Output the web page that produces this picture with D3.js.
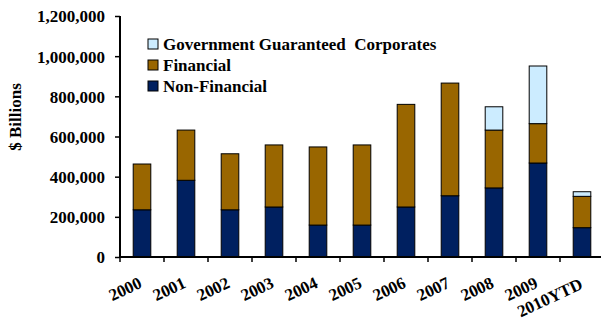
<!DOCTYPE html>
<html>
<head>
<meta charset="utf-8">
<script src="https://cdn.jsdelivr.net/npm/d3@7"></script>
<style>
  body { margin: 0; background: #fff; }
  svg text { font-family: "Liberation Serif", "Times New Roman", serif; font-weight: bold; fill: #000; }
</style>
</head>
<body>
<div id="chart"></div>
<script>
const years = ["2000", "2001", "2002", "2003", "2004", "2005", "2006", "2007", "2008", "2009", "2010YTD"];
const nonFinancial = [235000, 382000, 235000, 249000, 159000, 159000, 249000, 305000, 344000, 468000, 146000];
const financial = [228000, 250000, 279000, 309000, 389000, 399000, 511000, 561000, 288000, 196000, 156000];
const govGuaranteed = [0, 0, 0, 0, 0, 0, 0, 0, 116000, 287000, 23000];
const yTicks = [0, 200000, 400000, 600000, 800000, 1000000, 1200000];

const seriesNames = ["Non-Financial", "Financial", "Government Guaranteed  Corporates"];
const seriesKeys = ["nonFin", "fin", "gov"];
const colors = { nonFin: "#002060", fin: "#996600", gov: "#CCECFF" };

const W = 601, H = 320;
const plot = { left: 120, right: 604, top: 16, bottom: 257 };

const svg = d3.select("#chart").append("svg")
    .attr("width", W)
    .attr("height", H);

const rows = years.map((y, i) => ({ year: y, nonFin: nonFinancial[i], fin: financial[i], gov: govGuaranteed[i] }));
const stacked = d3.stack().keys(seriesKeys)(rows);

const x = d3.scaleBand().domain(years).range([plot.left, plot.right]).paddingInner(0.6).paddingOuter(0.3);
const y = d3.scaleLinear().domain([0, 1200000]).range([plot.bottom, plot.top]);

// bars
svg.append("g").selectAll("g")
    .data(stacked)
    .enter().append("g")
    .attr("fill", d => colors[d.key])
    .selectAll("rect")
    .data(d => d.filter(p => p[1] > p[0]))
    .enter().append("rect")
    .attr("x", d => x(d.data.year))
    .attr("y", d => y(d[1]))
    .attr("width", x.bandwidth())
    .attr("height", d => y(d[0]) - y(d[1]))
    .attr("stroke", "#000")
    .attr("stroke-width", 1);

// y axis
const yAxis = svg.append("g")
    .attr("transform", `translate(${plot.left},0)`)
    .call(d3.axisLeft(y).tickValues(yTicks).tickFormat(d3.format(",")).tickSize(5).tickPadding(10));
yAxis.select(".domain").attr("stroke", "#000").attr("stroke-width", 2).attr("d", `M0,${plot.top}V${plot.bottom}`);
yAxis.selectAll(".tick line").attr("stroke-width", 1.5);
yAxis.selectAll("text").style("font-size", "17px").attr("dy", "0.35em");

// x axis
const xAxis = svg.append("g")
    .attr("transform", `translate(0,${plot.bottom})`);
xAxis.append("line")
    .attr("x1", plot.left).attr("x2", W)
    .attr("stroke", "#000").attr("stroke-width", 2);
const step = x.step();
xAxis.selectAll(".xtick")
    .data(years)
    .enter().append("line")
    .attr("x1", d => x(d) + x.bandwidth() / 2 - step / 2)
    .attr("x2", d => x(d) + x.bandwidth() / 2 - step / 2)
    .attr("y1", 0).attr("y2", 5)
    .attr("stroke", "#000").attr("stroke-width", 1.5);
xAxis.selectAll(".xlabel")
    .data(years)
    .enter().append("text")
    .attr("transform", d => {
        const long = d.length > 4;
        return `translate(${x(d) + x.bandwidth() / 2 + (long ? 2 : 1)},${long ? 31 : 30}) rotate(-25)`;
    })
    .attr("text-anchor", "end")
    .style("font-size", "17px")
    .text(d => d);

// y title
svg.append("text")
    .attr("transform", `translate(21,117) rotate(-90)`)
    .attr("text-anchor", "middle")
    .style("font-size", "17px")
    .text("$ Billions");

// legend
const legendOrder = ["gov", "fin", "nonFin"];
const legend = svg.append("g").selectAll("g")
    .data(legendOrder)
    .enter().append("g")
    .attr("transform", (d, i) => `translate(148,${39 + i * 21})`);
legend.append("rect")
    .attr("width", 10).attr("height", 10)
    .attr("fill", d => colors[d])
    .attr("stroke", "#000").attr("stroke-width", 1);
legend.append("text")
    .attr("x", 15).attr("y", 11)
    .style("font-size", "17px")
    .style("white-space", "pre")
    .attr("xml:space", "preserve")
    .text(d => seriesNames[seriesKeys.indexOf(d)]);
</script>
</body>
</html>
